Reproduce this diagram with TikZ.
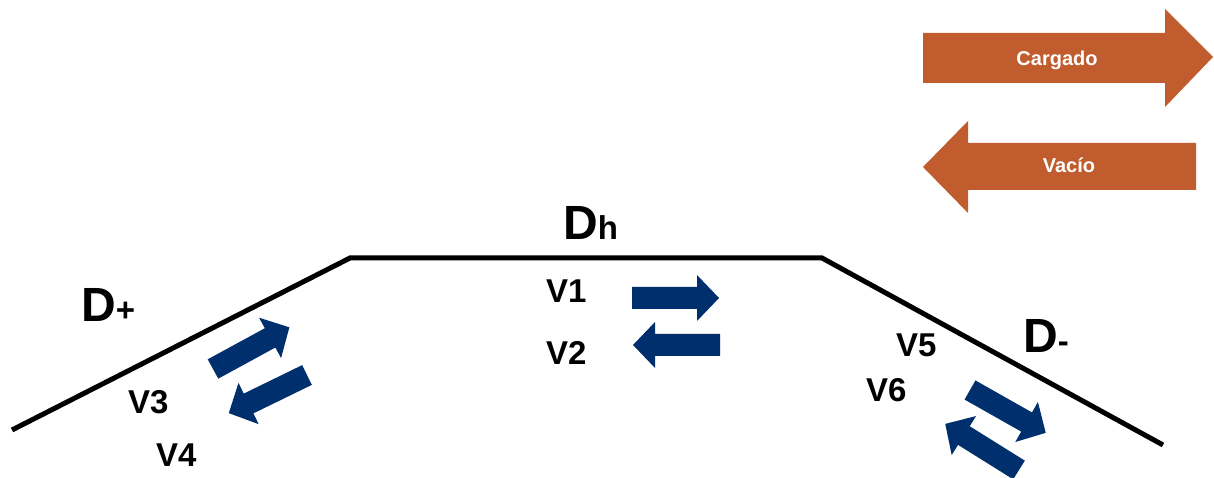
\documentclass[tikz,border=0pt]{standalone}
\usepackage{fontspec}
\setmainfont{Liberation Sans}
\begin{document}
\begin{tikzpicture}[x=1pt,y=1pt,
  road/.style={line width=5pt,black},
  flow/.style={fill={rgb,255:red,0;green,47;blue,110},draw=none},
  legendarrow/.style={fill={rgb,255:red,193;green,92;blue,46},draw=none},
  biglabel/.style={anchor=base west,inner sep=0pt,font=\bfseries\fontsize{48}{48}\selectfont},
  vlabel/.style={anchor=base west,inner sep=0pt,font=\bfseries\fontsize{33}{33}\selectfont},
  legendtext/.style={anchor=base,inner sep=0pt,text=white,font=\bfseries\fontsize{20}{20}\selectfont}]
\useasboundingbox (0,0) rectangle (1214,478);
\fill[white] (0,0) rectangle (1214,478);

% road profile: uphill, level, downhill
\coordinate (a) at (12,48);
\coordinate (b) at (350,220);
\coordinate (c) at (822,220);
\coordinate (d) at (1163,33);
\draw[road] (a) -- (b) -- (c) -- (d);

% legend arrows
\fill[legendarrow] (923,445) -- (1165,445) -- (1165,469) -- (1213,421)
  -- (1165,371) -- (1165,395) -- (923,395) -- cycle;
\fill[legendarrow] (1196,335) -- (968,335) -- (968,357) -- (923,311)
  -- (968,265) -- (968,288) -- (1196,288) -- cycle;
\node[legendtext] (cargado) at (1057,412) {Cargado};
\node[legendtext] (vacio) at (1069,305) {Vacío};

% direction arrows along each stretch
\newcommand\flowarrow[3]{%
  \begin{scope}[shift={(#1,#2)},rotate=#3]
    \fill[flow] (0,-11) -- (65,-11) -- (65,-23) -- (87,0) -- (65,23)
      -- (65,11) -- (0,11) -- cycle;
  \end{scope}}
\flowarrow{632}{180}{0}
\flowarrow{720}{133}{180}
\flowarrow{213}{109}{28.6}
\flowarrow{307}{103}{206}
\flowarrow{970}{88}{-29.5}
\flowarrow{1019}{8}{148}

% stretch labels
\node[biglabel] (dh) at (563,238) {D\fontsize{33}{33}\selectfont h};
\node[biglabel] (dplus) at (81,156) {D\fontsize{33}{33}\selectfont +};
\node[biglabel] (dminus) at (1023,125) {D\fontsize{33}{33}\selectfont -};

% speed labels
\node[vlabel] (v1) at (546,175) {V1};
\node[vlabel] (v2) at (546,113) {V2};
\node[vlabel] (v3) at (128,64) {V3};
\node[vlabel] (v4) at (156,11) {V4};
\node[vlabel] (v5) at (896,121) {V5};
\node[vlabel] (v6) at (866,76) {V6};
\end{tikzpicture}
\end{document}
